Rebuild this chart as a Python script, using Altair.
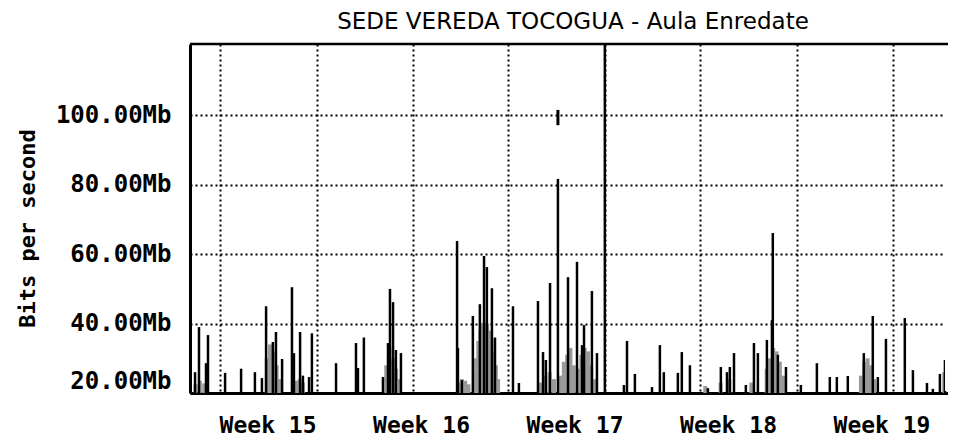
import altair as alt
import pandas as pd

# ---- data (x = days from left edge of plot, y = Mb/s) ----
spike_day = [0.23, 0.41, 0.73, 0.82, 1.60, 2.33, 2.96, 3.28, 3.47, 3.78, 3.92, 4.20, 4.65, 4.74,
             5.02, 5.15, 5.43, 5.56, 6.66, 7.57, 7.66, 7.93, 8.80, 9.03, 9.12, 9.26, 9.39, 9.62,
             12.18, 12.22, 12.40, 12.90, 13.22, 13.41, 13.54, 13.77, 13.91, 14.73, 15.00, 15.87,
             16.10, 16.23, 16.42, 16.78, 17.24, 17.65, 17.88, 17.97, 18.33, 18.56, 18.92, 19.79,
             19.93, 20.29, 21.07, 21.43, 21.61, 22.25, 22.43, 22.80, 23.62, 24.21, 24.49, 24.62,
             24.81, 25.35, 25.72, 25.90, 26.31, 26.54, 26.58, 26.81, 27.18, 27.86, 28.59, 29.18,
             29.50, 30.00, 30.73, 31.14, 31.37, 31.74, 32.60, 32.97, 33.61, 33.88, 34.20, 34.43]
spike_mb = [26, 39, 28.6, 36.7, 25.8, 27, 26, 24.3, 45, 34.7, 37.6, 29.8, 50.5, 31.5,
            37.6, 25, 24.6, 37.2, 28.6, 34.4, 27.2, 36, 24.6, 34.4, 50, 46.2, 32.4, 31.5,
            63.8, 33, 23.7, 42.2, 45.6, 59.5, 56.3, 50.2, 36, 45, 22.9, 46.5,
            31.8, 29.5, 51.7, 81.7, 53.4, 57.8, 33.8, 39.6, 49.4, 31.5, 125, 22.3,
            35, 25.5, 21.7, 33.8, 26, 25.8, 31.8, 28, 21.4, 27.5, 26, 27.5,
            31.5, 22.3, 34.4, 31.5, 35.3, 41, 66.1, 31, 27.5, 22.3, 28.6, 24.6,
            24.6, 24.9, 31.5, 42.2, 24.6, 35.6, 41.6, 26.6, 22.9, 21.2, 25.5, 29.5]

gray_day = [0.25, 0.45, 0.65,
            3.50, 3.65, 3.80, 3.95, 4.10,
            4.85, 5.00, 5.15,
            8.95, 9.10, 9.25, 9.40, 9.55,
            12.25, 12.40, 12.55, 12.70,
            12.95, 13.05, 13.15, 13.25, 13.35, 13.45, 13.55, 13.65, 13.75, 13.85, 13.95, 14.05,
            16.00, 16.20, 16.40, 16.60,
            16.90, 17.05, 17.20, 17.35, 17.50,
            17.70, 17.85, 18.00, 18.15, 18.30, 18.45,
            23.50, 24.20, 24.60, 25.60,
            26.30, 26.45, 26.60, 26.75, 26.90, 27.05,
            30.60, 30.75, 30.90, 31.05, 31.20,
            34.40]
gray_mb = [22.5, 23.5, 22.8,
           30, 34, 32, 28, 24,
           23.5, 24, 23,
           28, 33, 30, 27, 24,
           23, 24, 23.5, 22.5,
           26, 30, 35, 38, 40, 39, 40, 38, 36, 32, 28, 24,
           23, 25, 26, 24,
           25, 29, 31, 33, 28,
           27, 31, 33, 32, 28, 24,
           22, 23, 24, 23,
           27, 30, 33, 32, 29, 25,
           25, 29, 30, 28, 24,
           26]

glitch_day = [16.78]
glitch_lo = [97.2]
glitch_hi = [101.6]

grid_day = [1.37, 5.79, 10.17, 14.50, 18.92, 23.26, 27.68, 32.06]
week_day = [3.56, 10.56, 17.56, 24.56, 31.56]
week_label = ["Week 15", "Week 16", "Week 17", "Week 18", "Week 19"]
y_ticks = [20, 40, 60, 80, 100]

X_MAX = 34.57
Y_MIN, Y_MAX = 20, 120.6

# all series share the same column names so that the layers' axes merge
spikes = pd.DataFrame({"day": spike_day, "mb": spike_mb, "base": [Y_MIN] * len(spike_day)})
gray = pd.DataFrame({"day": gray_day, "mb": gray_mb, "base": [Y_MIN] * len(gray_day)})
glitch = pd.DataFrame({"day": glitch_day, "mb": glitch_hi, "base": glitch_lo})
weeks = pd.DataFrame({"day": week_day, "label": week_label})
one = pd.DataFrame({"a": [0]})

MONO = "DejaVu Sans Mono"

x_axis = alt.Axis(orient="bottom", values=grid_day, labels=False, ticks=False, title=None,
                  grid=True, gridColor="black", gridDash=[2, 3], gridWidth=2, gridOpacity=1,
                  domain=True, domainColor="black", domainWidth=3)
y_axis = alt.Axis(orient="left", values=y_ticks, labelExpr="format(datum.value, '.2f') + 'Mb'",
                  labelFont=MONO, labelFontWeight="bold", labelFontSize=24, labelColor="black",
                  labelPadding=19, labelFlush=True, ticks=False,
                  grid=True, gridColor="black", gridDash=[2, 3], gridWidth=2, gridOpacity=1,
                  domain=True, domainColor="black", domainWidth=3,
                  title="Bits per second", titleFont=MONO, titleFontWeight="bold",
                  titleFontSize=22, titleColor="black", titleX=-163, titleY=184,
                  titleAlign="center", titleBaseline="middle", titleAngle=270)

x_scale = alt.Scale(domain=[0, X_MAX], nice=False, zero=False)
y_scale = alt.Scale(domain=[Y_MIN, Y_MAX], nice=False, zero=False)

x_enc = alt.X("day:Q", scale=x_scale, axis=x_axis)
y_enc = alt.Y("mb:Q", scale=y_scale, axis=y_axis)

gray_layer = alt.Chart(gray).mark_rule(color="#9a9a9a", strokeWidth=4, clip=True).encode(
    x=x_enc, y=y_enc, y2="base:Q",
)
spike_layer = alt.Chart(spikes).mark_rule(color="black", strokeWidth=2.5, clip=True).encode(
    x=x_enc, y=y_enc, y2="base:Q",
)
glitch_layer = alt.Chart(glitch).mark_rule(color="black", strokeWidth=3, clip=True).encode(
    x=x_enc, y=y_enc, y2="base:Q",
)
# the reference plot runs off the right edge: mask the right frame edge
right_mask = alt.Chart(one).mark_rule(color="white", strokeWidth=6).encode(
    x=alt.value(758), y=alt.value(3), y2=alt.value(347)
)
top_border = alt.Chart(one).mark_rule(color="black", strokeWidth=2.5).encode(
    x=alt.value(0), x2=alt.value(758), y=alt.value(0)
)
week_text = alt.Chart(weeks).mark_text(
    font=MONO, fontWeight="bold", fontSize=23, color="black", baseline="middle", align="center"
).encode(
    x=x_enc,
    y=alt.value(382),
    text="label:N",
)

chart = alt.layer(gray_layer, spike_layer, glitch_layer, right_mask, top_border,
                  week_text).properties(
    width=758,
    height=349,
    autosize=alt.AutoSizeParams(type="none"),
    padding={"left": 182, "top": 36, "right": 0, "bottom": 47},
    title=alt.TitleParams("SEDE VEREDA TOCOGUA - Aula Enredate", font="DejaVu Sans",
                          fontSize=23, fontWeight="normal", color="black",
                          anchor="middle", offset=9, dx=4),
).configure_view(strokeWidth=0).configure(background="white")

chart.save("out.html", embed_options={"renderer": "svg", "actions": False})
